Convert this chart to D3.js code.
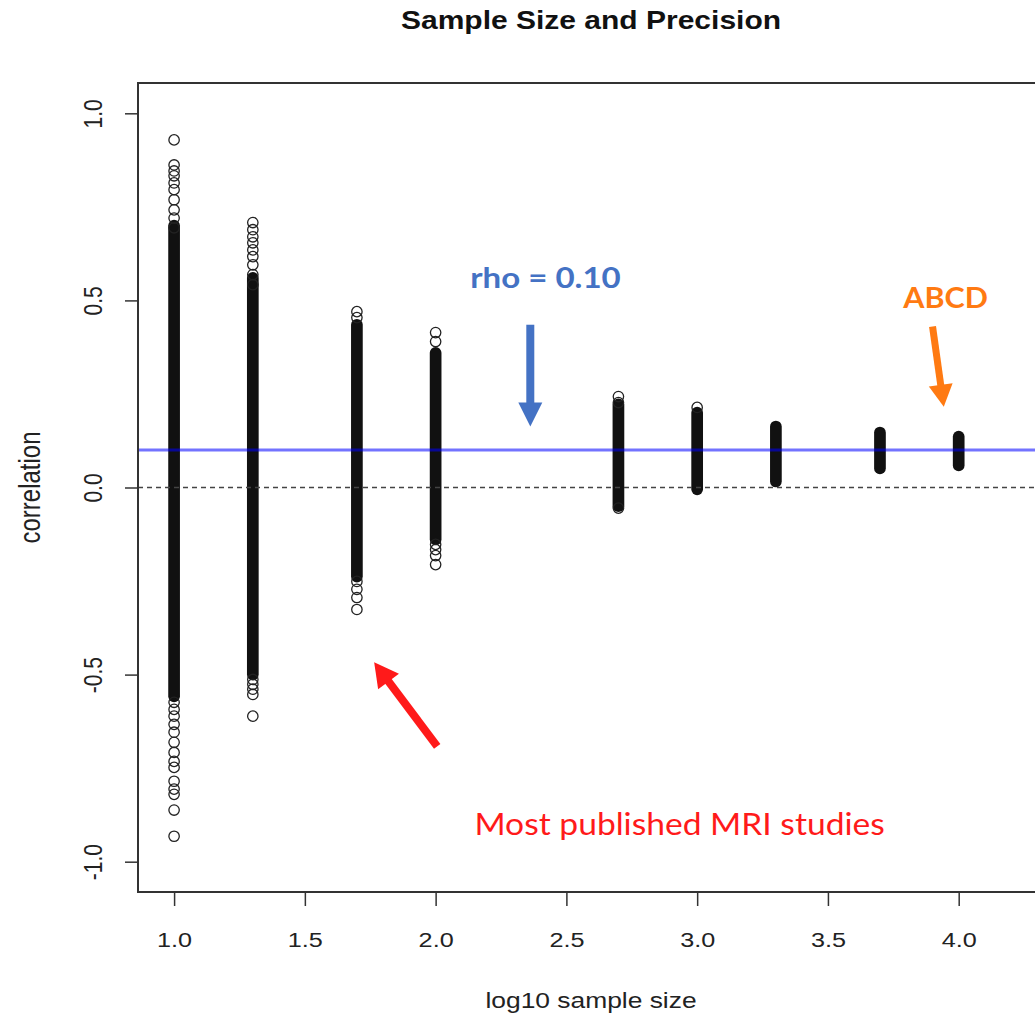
<!DOCTYPE html>
<html>
<head>
<meta charset="utf-8">
<script src="https://cdn.jsdelivr.net/npm/d3@7"></script>
<style>
  body { margin: 0; background: #fff; }
  svg { display: block; font-family: "Liberation Sans", Arial, sans-serif; }
</style>
</head>
<body>
<script>
// simulated correlations, one column per sample size
const sampleSizes = [10, 20, 50, 100, 500, 1000, 2000, 5000, 10000]
// range where the circles overlap into a solid stack
const denseHi = [0.70, 0.56, 0.435, 0.36, 0.222, 0.20, 0.163, 0.147, 0.136]
const denseLo = [-0.558, -0.50, -0.238, -0.139, -0.05, -0.005, 0.016, 0.051, 0.059]
// the loose points at the ends of each column
const tailPoints = [
  [0.929, 0.862, 0.846, 0.833, 0.814, 0.796, 0.769, 0.742, 0.720, 0.694,
   -0.574, -0.593, -0.611, -0.633, -0.654, -0.681, -0.708, -0.732, -0.748,
   -0.785, -0.806, -0.820, -0.862, -0.932],
  [0.708, 0.689, 0.670, 0.654, 0.635, 0.617, 0.595, 0.569, 0.542,
   -0.513, -0.526, -0.539, -0.553, -0.611],
  [0.470, 0.454, -0.251, -0.272, -0.294, -0.326],
  [0.414, 0.390, -0.152, -0.166, -0.182, -0.206],
  [0.243, 0.227, -0.055],
  [0.214],
  [], [], []
]
const xTicks = [1.0, 1.5, 2.0, 2.5, 3.0, 3.5, 4.0]
const yTicks = [-1.0, -0.5, 0.0, 0.5, 1.0]
const rho = 0.10

const width = 1035
const height = 1018
const plot = { left: 138, top: 83, right: 1045, bottom: 892 }
// the source image is a bit wider than tall, text included
const stretch = 1.2

const svg = d3.select('body').append('svg')
  .attr('width', width)
  .attr('height', height)
  .attr('viewBox', [0, 0, width, height])

const x = d3.scaleLinear().domain([0.862, 4.33]).range([plot.left, plot.right])
const y = d3.scaleLinear().domain([-1.081, 1.081]).range([plot.bottom, plot.top])

const r = 5.2
const sw = 1.3

const label = (px, py, str, size, sx = stretch) => svg.append('text')
  .attr('transform', `translate(${px},${py}) scale(${sx},1)`)
  .attr('text-anchor', 'middle')
  .attr('font-size', size)
  .attr('fill', '#222')
  .text(str)

// title
label(591, 29, 'Sample Size and Precision', 25)
  .attr('font-weight', 'bold')
  .attr('fill', '#111')

const cols = sampleSizes.map((n, i) => ({
  x: Math.log10(n), hi: denseHi[i], lo: denseLo[i], tails: tailPoints[i]
}))

const points = svg.append('g')

points.selectAll('rect')
  .data(cols)
  .join('rect')
    .attr('x', d => x(d.x) - r - sw / 2)
    .attr('y', d => y(d.hi) - r - sw / 2)
    .attr('width', 2 * r + sw)
    .attr('height', d => y(d.lo) - y(d.hi) + 2 * r + sw)
    .attr('rx', r + sw / 2)
    .attr('fill', '#111')

points.selectAll('circle')
  .data(cols.flatMap(d => d.tails.map(v => [d.x, v])))
  .join('circle')
    .attr('cx', d => x(d[0]))
    .attr('cy', d => y(d[1]))
    .attr('r', r)
    .attr('fill', 'none')
    .attr('stroke', '#222')
    .attr('stroke-width', sw)

// reference lines
svg.append('line')
  .attr('x1', plot.left).attr('x2', plot.right)
  .attr('y1', y(0)).attr('y2', y(0))
  .attr('stroke', '#444')
  .attr('stroke-width', 1.5)
  .attr('stroke-dasharray', '5 4')

svg.append('line')
  .attr('x1', plot.left).attr('x2', plot.right)
  .attr('y1', y(rho)).attr('y2', y(rho))
  .attr('stroke', 'rgba(0,0,255,0.55)')
  .attr('stroke-width', 3)

// box
svg.append('rect')
  .attr('x', plot.left)
  .attr('y', plot.top)
  .attr('width', plot.right - plot.left)
  .attr('height', plot.bottom - plot.top)
  .attr('fill', 'none')
  .attr('stroke', '#333')
  .attr('stroke-width', 2)

// axes
const xAxis = svg.append('g')
  .attr('transform', `translate(0,${plot.bottom})`)
  .call(d3.axisBottom(x).tickValues(xTicks).tickFormat(d3.format('.1f')).tickSize(14).tickPadding(26))
xAxis.select('.domain').remove()
xAxis.selectAll('line').attr('stroke', '#333').attr('stroke-width', 1.5)
xAxis.selectAll('text')
  .attr('font-size', 21)
  .attr('fill', '#222')
  .attr('font-family', 'Liberation Sans, Arial, sans-serif')
  .attr('transform', `scale(${stretch},1)`)

const yAxis = svg.append('g')
  .attr('transform', `translate(${plot.left},0)`)
  .call(d3.axisLeft(y).tickValues(yTicks).tickFormat(d3.format('.1f')).tickSize(13))
yAxis.select('.domain').remove()
yAxis.selectAll('line').attr('stroke', '#333').attr('stroke-width', 1.5)
yAxis.selectAll('text')
  .attr('font-size', 21)
  .attr('fill', '#222')
  .attr('font-family', 'Liberation Sans, Arial, sans-serif')
  .attr('x', null).attr('dy', null)
  .attr('text-anchor', 'middle')
  .attr('transform', `translate(-36,0) scale(${stretch},1) rotate(-90)`)
  .text(d => d3.format('.1f')(d).replace('−', '-'))

label(591, 1008, 'log10 sample size', 22)

svg.append('text')
  .attr('transform', `translate(40,${y(0)}) scale(${stretch},1) rotate(-90)`)
  .attr('text-anchor', 'middle')
  .attr('font-size', 24)
  .attr('fill', '#222')
  .text('correlation')

// annotations, placed in data units
const arrow = (from, to, color, w, headLen, headW) => {
  const x0 = x(from[0]), y0 = y(from[1]), x1 = x(to[0]), y1 = y(to[1])
  const len = Math.hypot(x1 - x0, y1 - y0)
  const ux = (x1 - x0) / len, uy = (y1 - y0) / len
  const bx = x1 - ux * headLen, by = y1 - uy * headLen
  svg.append('line')
    .attr('x1', x0).attr('y1', y0).attr('x2', bx + ux * 2).attr('y2', by + uy * 2)
    .attr('stroke', color).attr('stroke-width', w)
  svg.append('path')
    .attr('d', d3.line()([
      [x1, y1],
      [bx - uy * headW, by + ux * headW],
      [bx + uy * headW, by - ux * headW]
    ]) + 'Z')
    .attr('fill', color)
}

const note = (vx, vy, str, size, color, sx) => label(x(vx), y(vy), str, size, sx)
  .attr('dy', '0.35em')
  .attr('font-family', 'Lato, "Open Sans", sans-serif')
  .attr('fill', color)

note(2.42, 0.561, 'rho = 0.10', 29, '#4472c4', 1.14).attr('font-weight', 'bold')
arrow([2.362, 0.435], [2.362, 0.163], '#4472c4', 8, 24, 12)

note(3.95, 0.507, 'ABCD', 28, '#ff7a12', 1.09).attr('font-weight', 'bold')
arrow([3.90, 0.43], [3.943, 0.216], '#ff7a12', 7, 22, 12)

arrow([2.006, -0.692], [1.765, -0.467], '#ff1a1a', 8, 24, 13)

note(2.933, -0.9, 'Most published MRI studies', 30, '#ff1a1a', 1.12)
</script>
</body>
</html>
